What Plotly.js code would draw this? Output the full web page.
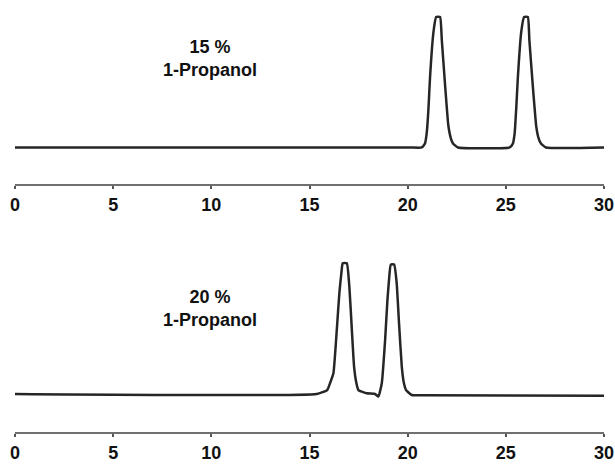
<!DOCTYPE html>
<html>
<head>
<meta charset="utf-8">
<script src="https://cdn.plot.ly/plotly-3.0.1.min.js"></script>
<style>html,body{margin:0;padding:0;background:#fff;}#chart{width:615px;height:466px;}</style>
</head>
<body>
<div id="chart"></div>
<script>
// Retention time (min) and normalised detector signal
const timeTop = [0, 20.1, 20.72, 20.88, 20.97, 21.06, 21.14, 21.31, 21.45, 21.65, 21.74, 21.9, 22.07, 22.2, 22.31, 22.57, 25.2, 25.36, 25.45, 25.53, 25.61, 25.78, 25.93, 26.12, 26.2, 26.37, 26.55, 26.67, 26.79, 27.05, 30];
const signalTop = [0, 0, 0, 0.03, 0.11, 0.3, 0.54, 0.88, 1.0, 1.0, 0.82, 0.49, 0.17, 0.07, 0.03, 0, 0, 0.03, 0.11, 0.3, 0.53, 0.88, 1.0, 1.0, 0.82, 0.48, 0.16, 0.07, 0.03, 0, 0];

const timeBottom = [0, 15.37, 15.9, 16.05, 16.22, 16.39, 16.52, 16.64, 16.69, 16.9, 17.03, 17.15, 17.27, 17.38, 17.49, 17.92, 18.34, 18.51, 18.68, 18.85, 18.97, 19.07, 19.14, 19.31, 19.44, 19.56, 19.7, 19.8, 19.92, 20.21, 20.78, 30];
const signalBottom = [0, 0, 0.03, 0.084, 0.16, 0.49, 0.77, 0.95, 1.0, 1.0, 0.82, 0.51, 0.21, 0.09, 0.03, 0.005, 0, -0.02, 0.08, 0.41, 0.72, 0.91, 0.99, 0.99, 0.85, 0.54, 0.21, 0.09, 0.03, -0.008, -0.01, -0.014];

const tickVals = [0, 5, 10, 15, 20, 25, 30];
const tickText = ['0', '5', '10', '15', '20', '25', '30'];
const panelLabels = ['15 %<br>1-Propanol', '20 %<br>1-Propanol'];

const lineStyle = {color: '#262626', width: 2.5, shape: 'spline', smoothing: 0.4};
const traces = [
  {x: timeTop, y: signalTop, type: 'scatter', mode: 'lines', line: lineStyle, xaxis: 'x', yaxis: 'y', hoverinfo: 'skip'},
  {x: timeBottom, y: signalBottom, type: 'scatter', mode: 'lines', line: lineStyle, xaxis: 'x2', yaxis: 'y2', hoverinfo: 'skip'}
];

const FONT = 'Liberation Sans, Arial, Helvetica, sans-serif';
const xBase = {
  range: [0, 30], showgrid: false, zeroline: false,
  showline: true, linecolor: '#707070', linewidth: 2,
  ticks: 'outside', ticklen: 3, tickwidth: 2, tickcolor: '#555',
  tickmode: 'array', tickvals: tickVals, ticktext: tickText,
  tickfont: {family: FONT, size: 18, color: '#111', weight: 'bold'},
  fixedrange: true
};
const yBase = {showgrid: false, zeroline: false, showline: false, showticklabels: false, ticks: '', fixedrange: true};

const layout = {
  width: 615, height: 466,
  margin: {l: 15, r: 11, t: 0, b: 0},
  paper_bgcolor: '#fff', plot_bgcolor: '#fff',
  showlegend: false,
  xaxis: Object.assign({}, xBase, {anchor: 'y'}),
  yaxis: Object.assign({}, yBase, {domain: [0.6052, 1], range: [-0.2797, 1.130], anchor: 'x'}),
  xaxis2: Object.assign({}, xBase, {anchor: 'y2'}),
  yaxis2: Object.assign({}, yBase, {domain: [0.073, 0.485], range: [-0.2907, 1.178], anchor: 'x2'}),
  annotations: [
    {text: '<b>' + panelLabels[0] + '</b>', xref: 'x', yref: 'paper', x: 9.93, y: 0.8735, yanchor: 'middle', xanchor: 'center', showarrow: false,
     font: {family: FONT, size: 18, color: '#111'}, align: 'center'},
    {text: '<b>' + panelLabels[1] + '</b>', xref: 'x2', yref: 'paper', x: 9.93, y: 0.337, yanchor: 'middle', xanchor: 'center', showarrow: false,
     font: {family: FONT, size: 18, color: '#111'}, align: 'center'}
  ]
};

Plotly.newPlot('chart', traces, layout, {staticPlot: true, displayModeBar: false});
</script>
</body>
</html>
